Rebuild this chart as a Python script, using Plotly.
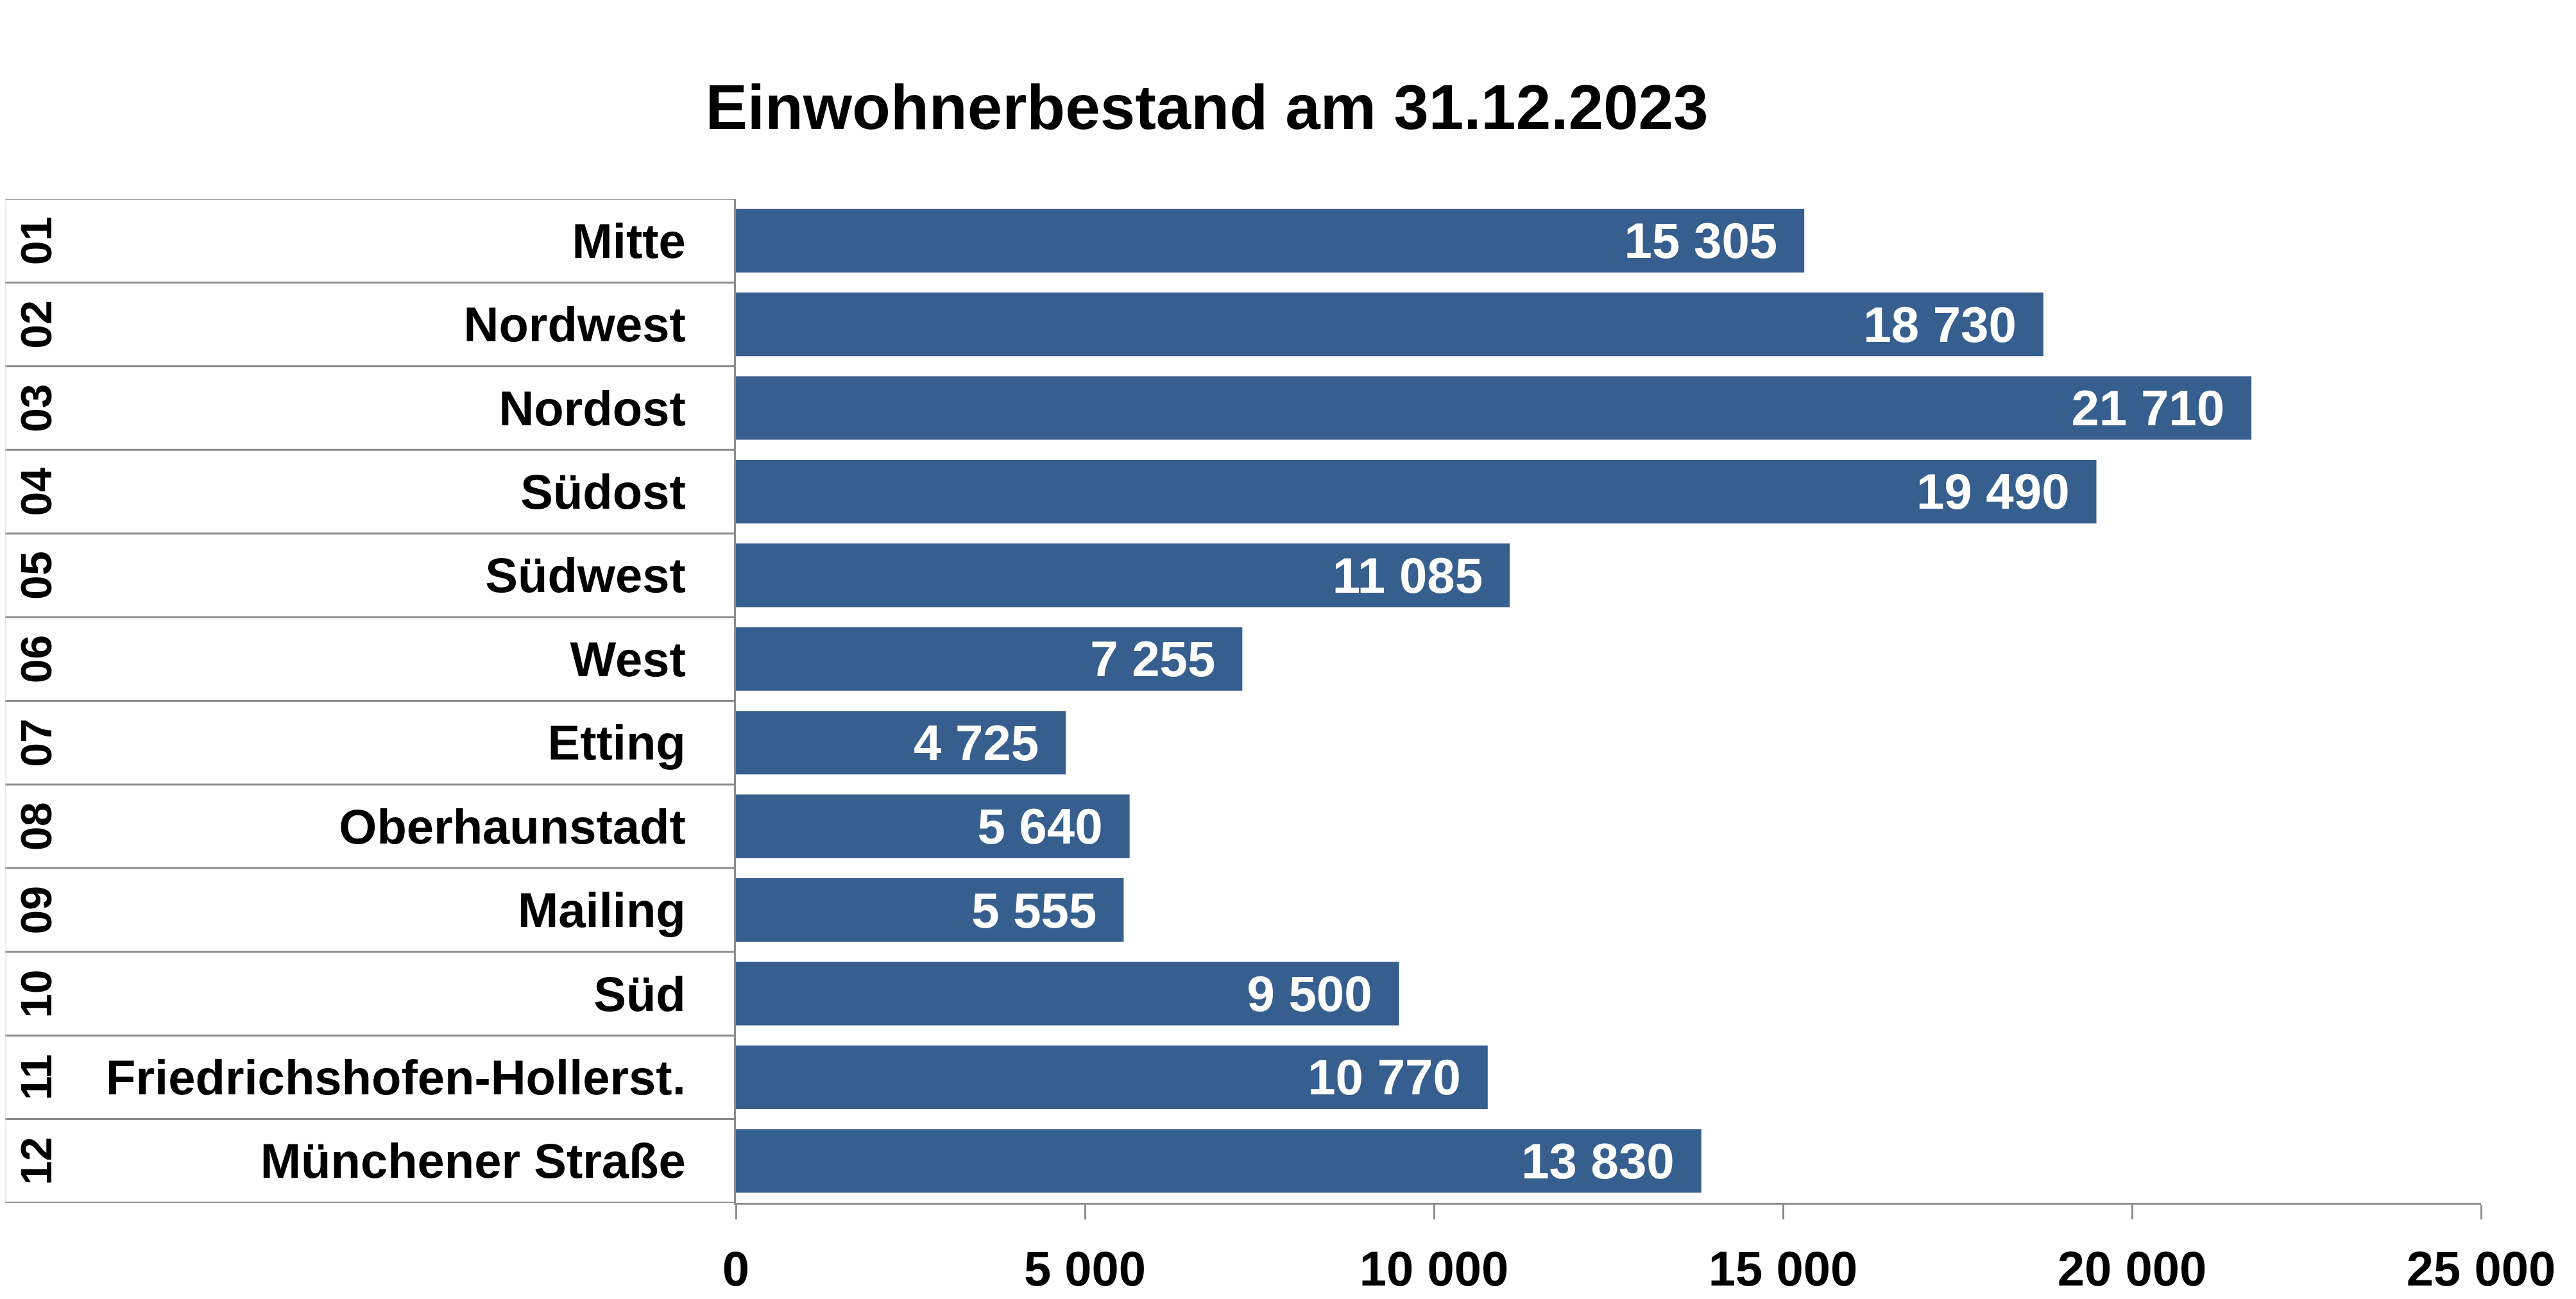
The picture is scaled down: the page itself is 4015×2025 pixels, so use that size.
import plotly.graph_objects as go

# Einwohnerbestand nach Stadtbezirk
nummern = ["01", "02", "03", "04", "05", "06", "07", "08", "09", "10", "11", "12"]
bezirke = ["Mitte", "Nordwest", "Nordost", "Südost", "Südwest", "West", "Etting",
           "Oberhaunstadt", "Mailing", "Süd", "Friedrichshofen-Hollerst.", "Münchener Straße"]
einwohner = [15305, 18730, 21710, 19490, 11085, 7255, 4725, 5640, 5555, 9500, 10770, 13830]

W, H = 4015, 2025
L, R, T, B = 1139, 156, 302, 158
plot_w = W - L - R

bar_color = "#365F8F"
line_color = "#8C8C8C"
font_family = "Liberation Sans, Arial, sans-serif"

fig = go.Figure()
fig.add_trace(go.Bar(
    x=einwohner, y=bezirke, orientation="h",
    marker=dict(color=bar_color, line=dict(width=0)),
    width=0.76,
    texttemplate="%{x:,}\u2002",
    textposition="inside", insidetextanchor="end", textangle=0,
    textfont=dict(family=font_family, size=78, color="white", weight="bold"),
    hoverinfo="skip",
))

# table lines left of the axis
x_left = -L / plot_w
for i in range(len(bezirke) + 1):
    fig.add_shape(type="line", xref="paper", yref="y",
                  x0=x_left, x1=0, y0=i - 0.5, y1=i - 0.5,
                  line=dict(color=line_color, width=3), layer="above")
fig.add_shape(type="line", xref="paper", yref="y",
              x0=x_left + 1 / plot_w, x1=x_left + 1 / plot_w,
              y0=-0.5, y1=len(bezirke) - 0.5,
              line=dict(color="#D8D8D8", width=1))

# district numbers, rotated
for i, n in enumerate(nummern):
    fig.add_annotation(x=(48 - L) / plot_w, xref="paper", y=i, yref="y",
                       text=n, showarrow=False, textangle=-90,
                       xanchor="center", yanchor="middle",
                       font=dict(family=font_family, size=68, color="black", weight="bold"))

fig.update_layout(
    width=W, height=H,
    margin=dict(l=L, r=R, t=T, b=B, pad=0),
    paper_bgcolor="white", plot_bgcolor="white",
    separators=", ",
    showlegend=False,
    bargap=0.24,
    title=dict(text="Einwohnerbestand am 31.12.2023",
               x=1873 / W, xanchor="center", y=1 - 159 / H, yanchor="middle",
               font=dict(family=font_family, size=98, color="black", weight="bold")),
    xaxis=dict(range=[0, 25000], tickvals=[0, 5000, 10000, 15000, 20000, 25000],
               tickformat=",", showgrid=False, zeroline=False,
               showline=True, linecolor=line_color, linewidth=3,
               ticks="outside", ticklen=23, tickwidth=3, tickcolor=line_color,
               ticklabelstandoff=12,
               tickfont=dict(family=font_family, size=76, color="black", weight="bold")),
    yaxis=dict(categoryorder="array", categoryarray=bezirke,
               range=[len(bezirke) - 0.5, -0.5],
               showgrid=False, zeroline=False,
               showline=True, linecolor=line_color, linewidth=3,
               ticks="", ticklabelstandoff=60,
               tickfont=dict(family=font_family, size=76, color="black", weight="bold")),
)

fig.write_html("out.html")
